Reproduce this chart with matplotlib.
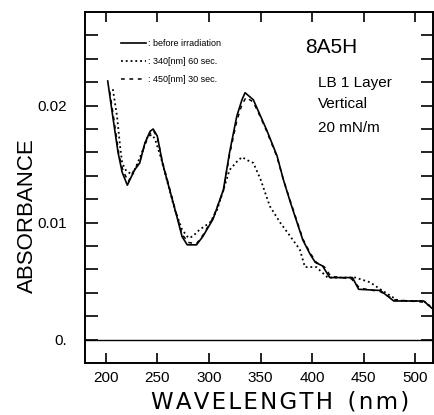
import numpy as np
import matplotlib
matplotlib.use("Agg")
import matplotlib.pyplot as plt
from matplotlib.ticker import FixedLocator, FixedFormatter

plt.rcParams['font.family'] = ['Liberation Sans', 'DejaVu Sans']

# before irradiation (solid)
wl_before = [202, 207, 212, 216, 221, 228, 233, 238, 243, 246, 250, 255, 262, 269, 274,
             279, 288, 294, 304, 314, 320, 327, 332, 335, 343, 350, 356, 366, 372, 379,
             385, 391, 398, 403, 410, 417, 439, 445, 466, 479, 508, 517]
abs_before = [0.0221, 0.0190, 0.0160, 0.0143, 0.0132, 0.0145, 0.0151, 0.0168, 0.0178, 0.0180,
              0.0174, 0.0151, 0.0128, 0.0105, 0.0088, 0.0081, 0.0081, 0.0088, 0.0103, 0.0128,
              0.0160, 0.0191, 0.0205, 0.0211, 0.0205, 0.0191, 0.0179, 0.0157, 0.0137, 0.0117,
              0.0101, 0.0085, 0.0073, 0.0066, 0.0063, 0.0053, 0.0053, 0.0043, 0.0042, 0.0033,
              0.0033, 0.0026]

# 340 nm, 60 sec (dotted)
wl_340 = [207, 211, 214, 216, 220, 226, 231, 236, 241, 245, 248, 254, 260, 267, 274, 280,
          284, 291, 301, 308, 314, 320, 327, 332, 338, 343, 350, 359, 369, 379, 388, 393,
          404, 415, 442, 456, 466, 482, 488, 508, 515]
abs_340 = [0.0214, 0.0191, 0.0165, 0.0151, 0.0144, 0.0141, 0.0151, 0.0162, 0.0174, 0.0175,
           0.0171, 0.0154, 0.0134, 0.0111, 0.0094, 0.0087, 0.0088, 0.0094, 0.0100, 0.0111,
           0.0128, 0.0145, 0.0152, 0.0156, 0.0153, 0.0151, 0.0137, 0.0114, 0.0100, 0.0088,
           0.0077, 0.0062, 0.0062, 0.0053, 0.0053, 0.0049, 0.0043, 0.0034, 0.0033, 0.0033,
           0.0028]

# 450 nm, 30 sec (dashed)
wl_450 = [204, 209, 213, 217, 222, 228, 233, 238, 243, 246, 250, 255, 262, 269, 274, 280,
          288, 294, 304, 314, 320, 327, 332, 336, 343, 350, 356, 366, 372, 379, 385, 391,
          398, 404, 412, 418, 438, 446, 466, 480, 508, 517]
abs_450 = [0.0212, 0.0182, 0.0157, 0.0144, 0.0135, 0.0146, 0.0152, 0.0167, 0.0176, 0.0179,
           0.0173, 0.0152, 0.0129, 0.0106, 0.0090, 0.0083, 0.0082, 0.0089, 0.0104, 0.0127,
           0.0158, 0.0187, 0.0201, 0.0207, 0.0203, 0.0190, 0.0178, 0.0156, 0.0137, 0.0118,
           0.0102, 0.0086, 0.0074, 0.0066, 0.0062, 0.0054, 0.0052, 0.0044, 0.0041, 0.0034,
           0.0032, 0.0027]

x_ticks = [200, 250, 300, 350, 400, 450, 500]
y_ticks = [0.0, 0.002, 0.004, 0.006, 0.008, 0.01, 0.012, 0.014, 0.016, 0.018, 0.02,
           0.022, 0.024, 0.026]
y_labels = ['0.', '', '', '', '', '0.01', '', '', '', '', '0.02', '', '', '']

fig = plt.figure(figsize=(4.34, 4.15), dpi=100)
ax = fig.add_axes([85/434, 1 - 363/415, 348/434, 351/415])

ax.plot(wl_before, abs_before, '-', color='black', lw=1.2, label=': before irradiation')
ax.plot(wl_340, abs_340, ':', color='black', lw=1.3, label=': 340[nm] 60 sec.')
ax.plot(wl_450, abs_450, color='black', lw=1.1, ls=(0, (2.5, 3)), label=': 450[nm] 30 sec.')
ax.axhline(0, color='black', lw=1.0)

ax.set_xlim(180, 517)
ax.set_ylim(-0.002, 0.028)

ax.xaxis.set_major_locator(FixedLocator(x_ticks))
ax.yaxis.set_major_locator(FixedLocator(y_ticks))
ax.yaxis.set_major_formatter(FixedFormatter(y_labels))
ax.tick_params(axis='both', direction='in', top=True, right=True, width=1.2,
               labelsize=11, color='black')
ax.tick_params(axis='x', length=7, pad=6)
ax.tick_params(axis='y', length=9, pad=13)
for s in ax.spines.values():
    s.set_linewidth(1.4)

# letter-spaced axis title, as in the scan
xlab = '\u200a'.join('WAVELENGTH') + '  ' + '\u200a'.join('(nm)')
ax.set_xlabel(xlab, fontsize=16.5, family='DejaVu Sans')
ax.xaxis.set_label_coords(0.56, -0.078)
ax.set_ylabel('ABSORBANCE', fontsize=16)
ax.yaxis.set_label_coords(-0.134, 0.419)

ax.legend(loc='upper left', bbox_to_anchor=(0.09, 0.935), frameon=False, fontsize=6.5,
          handlelength=2.8, handletextpad=0.2, labelspacing=1.0, borderpad=0)

ax.text(0.632, 0.883, '8A5H', fontsize=15, va='baseline', transform=ax.transAxes)
ax.text(0.670, 0.786, 'LB 1 Layer', fontsize=11, va='baseline', transform=ax.transAxes)
ax.text(0.670, 0.726, 'Vertical', fontsize=11, va='baseline', transform=ax.transAxes)
ax.text(0.670, 0.658, '20 mN/m', fontsize=11, va='baseline', transform=ax.transAxes)

fig.savefig('out.png', dpi=100)
